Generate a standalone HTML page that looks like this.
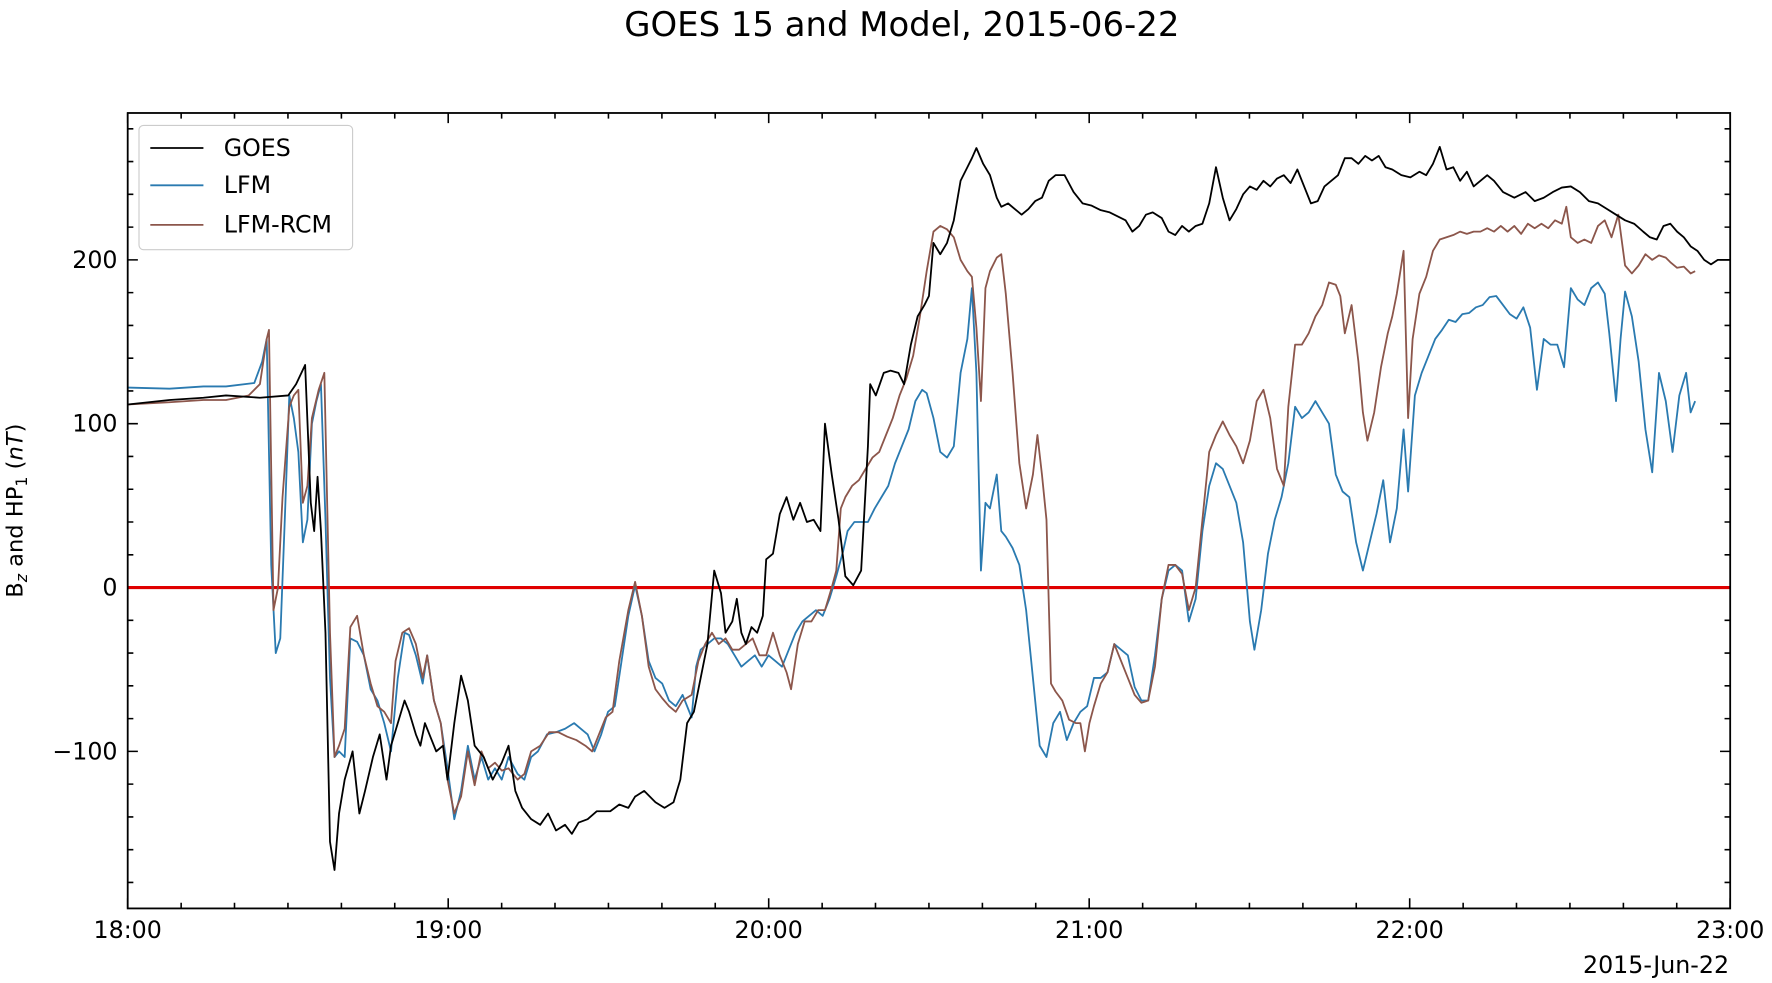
<!DOCTYPE html>
<html><head><meta charset="utf-8"><style>html,body{margin:0;padding:0;background:#fff}svg{display:block}</style></head>
<body>
<svg width="1772" height="983" viewBox="0 0 1568 870" preserveAspectRatio="none" xmlns="http://www.w3.org/2000/svg" font-family="'DejaVu Sans','Liberation Sans',sans-serif">
<rect width="1568" height="870" fill="#fff"/>
<text x="798" y="32" font-size="30" text-anchor="middle">GOES 15 and Model, 2015-06-22</text>
<g id="ticks" stroke="#000" stroke-width="1.4">
<path d="M113,804v-9M396.6,804v-9M680.2,804v-9M963.8,804v-9M1247.4,804v-9M1531,804v-9M113,100v9M396.6,100v9M680.2,100v9M963.8,100v9M1247.4,100v9M1531,100v9"/>
<path d="M160.3,804v-5M207.5,804v-5M254.8,804v-5M302.1,804v-5M349.3,804v-5M443.9,804v-5M491.1,804v-5M538.4,804v-5M585.7,804v-5M632.9,804v-5M727.5,804v-5M774.7,804v-5M822,804v-5M869.3,804v-5M916.5,804v-5M1011.1,804v-5M1058.3,804v-5M1105.6,804v-5M1152.9,804v-5M1200.1,804v-5M1294.7,804v-5M1341.9,804v-5M1389.2,804v-5M1436.5,804v-5M1483.7,804v-5M160.3,100v5M207.5,100v5M254.8,100v5M302.1,100v5M349.3,100v5M443.9,100v5M491.1,100v5M538.4,100v5M585.7,100v5M632.9,100v5M727.5,100v5M774.7,100v5M822,100v5M869.3,100v5M916.5,100v5M1011.1,100v5M1058.3,100v5M1105.6,100v5M1152.9,100v5M1200.1,100v5M1294.7,100v5M1341.9,100v5M1389.2,100v5M1436.5,100v5M1483.7,100v5"/>
<path d="M113,665h9M113,520h9M113,375h9M113,230h9M1531,665h-9M1531,520h-9M1531,375h-9M1531,230h-9"/>
<path d="M113,781h5M113,752h5M113,723h5M113,694h5M113,636h5M113,607h5M113,578h5M113,549h5M113,491h5M113,462h5M113,433h5M113,404h5M113,346h5M113,317h5M113,288h5M113,259h5M113,201h5M113,172h5M113,143h5M113,114h5M1531,781h-5M1531,752h-5M1531,723h-5M1531,694h-5M1531,636h-5M1531,607h-5M1531,578h-5M1531,549h-5M1531,491h-5M1531,462h-5M1531,433h-5M1531,404h-5M1531,346h-5M1531,317h-5M1531,288h-5M1531,259h-5M1531,201h-5M1531,172h-5M1531,143h-5M1531,114h-5"/>
</g>
<g font-size="21" text-anchor="middle">
<text x="113" y="830">18:00</text><text x="396.6" y="830">19:00</text><text x="680.2" y="830">20:00</text><text x="963.8" y="830">21:00</text><text x="1247.4" y="830">22:00</text><text x="1531" y="830">23:00</text>
</g>
<text x="1530" y="861" font-size="21" text-anchor="end">2015-Jun-22</text>
<g font-size="21" text-anchor="end">
<text x="104" y="672">−100</text><text x="104" y="527">0</text><text x="104" y="382">100</text><text x="104" y="237">200</text>
</g>
<text transform="translate(20,452) rotate(-90)" font-size="20" text-anchor="middle">B<tspan font-size="14" dy="4" font-style="italic">z</tspan><tspan dy="-4"> and HP</tspan><tspan font-size="14" dy="4">1</tspan><tspan dy="-4"> (</tspan><tspan font-style="italic">nT</tspan>)</text>
<line x1="113" y1="520" x2="1531" y2="520" stroke="#e00000" stroke-width="2.8"/>
<g fill="none" stroke-width="1.6" stroke-linejoin="round">
<polyline stroke="#2a7ab0" points="113,343 150,344 180,342 200,342 225,339 232,320 236,300 240,500 244,578 248,565 252,460 256,350 260,370 264,400 268,480 272,460 276,375 280,355 284,340 288,460 292,600 296,670 300,665 305,670 310,565 316,568 322,580 328,610 334,620 340,640 346,665 352,600 358,560 362,562 368,580 374,605 378,580 384,620 390,640 396,680 402,725 408,700 414,660 420,690 426,670 432,690 438,680 444,690 450,670 458,685 464,690 470,670 476,665 484,650 492,648 500,645 508,640 514,645 520,650 526,665 532,650 538,630 544,625 550,585 556,545 562,518 568,545 574,585 580,600 586,605 592,620 598,625 604,615 612,635 616,590 620,575 626,570 632,565 638,565 644,570 650,580 656,590 662,585 668,580 674,590 680,580 686,585 692,590 698,575 704,560 710,550 716,545 722,540 728,545 734,530 740,510 746,488 750,470 756,462 762,462 768,462 774,450 780,440 786,430 792,410 798,395 804,380 810,355 816,345 820,348 826,370 832,400 838,405 844,395 850,330 856,300 860,255 864,330 868,505 872,445 876,450 882,420 886,470 890,475 896,485 902,500 908,540 914,600 920,660 926,670 932,640 938,630 944,655 950,640 956,630 962,625 968,600 974,600 980,595 986,570 992,575 998,580 1004,608 1010,620 1016,620 1022,580 1028,530 1034,505 1040,500 1046,505 1052,550 1058,530 1064,470 1070,430 1076,410 1082,415 1088,430 1094,445 1100,480 1106,550 1110,575 1116,540 1122,490 1128,460 1134,440 1140,410 1146,360 1152,370 1158,365 1164,355 1170,365 1176,375 1182,420 1188,435 1194,440 1200,480 1206,505 1212,480 1218,455 1224,425 1230,480 1236,450 1242,380 1246,435 1252,350 1258,330 1264,315 1270,300 1276,292 1282,283 1288,285 1294,278 1300,277 1306,272 1312,270 1318,263 1324,262 1330,270 1336,278 1342,282 1348,272 1354,290 1360,345 1366,300 1372,305 1378,305 1384,325 1390,255 1396,265 1402,270 1408,255 1414,250 1420,260 1424,295 1430,355 1434,300 1438,258 1444,280 1450,320 1456,380 1462,418 1468,330 1474,355 1480,400 1486,350 1492,330 1496,365 1500,355"/>
<polyline stroke="#8c564b" points="113,358 150,356 180,354 200,354 220,350 230,340 236,300 238,292 242,540 246,520 250,440 256,360 260,350 264,345 268,445 272,430 276,370 282,345 287,330 292,560 296,670 300,660 305,645 310,555 316,545 322,580 328,605 334,625 340,630 346,640 350,585 356,560 362,556 368,570 374,600 378,580 384,620 390,640 396,690 402,720 408,705 414,665 420,695 426,665 432,680 438,675 444,682 450,680 458,690 464,685 470,665 478,660 486,648 494,648 502,652 510,655 518,660 524,665 530,650 536,635 542,630 548,585 556,540 562,515 568,545 574,590 580,610 586,618 592,625 598,630 604,620 612,615 618,585 624,570 630,560 636,570 642,565 648,575 654,575 660,570 666,565 672,580 678,580 684,560 690,580 696,595 700,610 706,570 712,550 718,550 724,540 730,540 736,520 740,505 744,450 748,440 754,430 760,425 766,415 772,405 778,400 784,385 790,370 796,350 802,335 808,315 814,280 820,240 826,205 832,200 838,203 844,210 850,230 856,240 860,245 864,290 868,355 872,255 876,240 882,228 886,225 890,260 896,330 902,410 908,450 914,420 918,385 922,420 926,460 930,605 934,612 940,620 946,637 952,640 956,640 960,665 964,640 968,625 974,605 980,595 986,570 992,585 998,600 1004,615 1010,622 1016,620 1022,590 1028,530 1034,500 1040,500 1046,508 1052,540 1058,520 1064,460 1070,400 1076,385 1082,373 1088,385 1094,395 1100,410 1106,390 1112,355 1118,345 1124,370 1130,415 1136,430 1140,360 1146,305 1152,305 1158,295 1164,280 1170,270 1176,250 1182,252 1186,262 1190,295 1196,270 1202,320 1206,365 1210,390 1216,365 1222,325 1228,295 1232,280 1236,260 1242,222 1246,370 1250,300 1256,260 1262,245 1268,222 1274,212 1280,210 1286,208 1292,205 1298,207 1304,205 1310,205 1316,202 1322,205 1328,200 1334,205 1340,200 1346,207 1352,198 1358,202 1364,198 1370,202 1376,195 1382,198 1386,183 1390,210 1396,215 1402,212 1408,215 1414,200 1420,195 1426,210 1432,190 1438,235 1444,242 1450,235 1456,225 1462,230 1468,226 1474,228 1478,232 1484,237 1490,236 1496,242 1500,240"/>
<polyline stroke="#000" points="113,358 150,354 180,352 200,350 230,352 255,350 262,340 270,323 275,445 278,470 281,422 284,470 288,560 292,745 296,770 300,720 305,690 312,665 318,720 323,700 330,670 336,650 342,690 346,660 352,640 358,620 362,630 368,650 372,660 376,640 380,650 386,665 392,660 396,690 402,640 408,598 414,620 420,660 428,670 436,690 444,675 450,660 456,700 462,715 470,725 478,730 485,720 492,735 500,730 506,738 512,728 520,725 528,718 540,718 548,712 556,715 562,705 570,700 580,710 588,715 596,710 602,690 608,640 614,630 620,600 626,570 632,505 638,525 642,560 648,550 652,530 656,560 660,570 665,555 670,560 675,545 678,495 684,490 690,455 696,440 702,460 708,445 714,462 720,460 726,470 730,375 736,420 742,460 748,510 755,518 762,505 768,395 770,340 775,350 782,330 788,328 795,330 800,340 806,305 812,280 818,270 822,262 826,215 832,225 838,215 844,195 850,160 856,148 860,140 864,131 870,145 876,155 882,175 886,183 892,180 898,185 904,190 910,185 916,178 922,175 928,160 934,155 942,155 950,170 958,180 966,182 974,186 982,188 990,192 996,195 1002,205 1008,200 1014,190 1020,188 1028,193 1034,205 1040,208 1046,200 1052,205 1058,200 1064,198 1070,180 1076,148 1082,175 1088,195 1094,185 1100,172 1106,165 1112,168 1118,160 1124,165 1130,158 1136,155 1142,162 1148,150 1154,165 1160,180 1166,178 1172,165 1178,160 1184,155 1190,140 1196,140 1202,145 1208,138 1214,142 1220,138 1226,148 1232,150 1240,155 1248,157 1256,152 1262,155 1268,145 1274,130 1280,150 1286,148 1292,160 1298,152 1304,165 1310,160 1316,155 1322,160 1330,170 1340,175 1350,170 1358,178 1366,175 1374,170 1382,166 1390,165 1398,170 1406,178 1414,180 1422,185 1430,190 1438,195 1446,198 1454,205 1460,210 1466,212 1472,200 1478,198 1484,205 1490,210 1496,218 1502,222 1508,230 1514,234 1520,230 1531,230"/>
</g>
<rect x="113" y="100" width="1418" height="704" fill="none" stroke="#000" stroke-width="1.6"/>
<rect x="123" y="111" width="189" height="110" rx="4" fill="#fff" fill-opacity="0.85" stroke="#ccc" stroke-width="1"/>
<g stroke-width="1.6"><line x1="133" y1="131" x2="180" y2="131" stroke="#000"/><line x1="133" y1="164" x2="180" y2="164" stroke="#2a7ab0"/><line x1="133" y1="199" x2="180" y2="199" stroke="#8c564b"/></g>
<g font-size="21"><text x="198" y="138">GOES</text><text x="198" y="171">LFM</text><text x="198" y="206">LFM-RCM</text></g>
</svg>
</body></html>
